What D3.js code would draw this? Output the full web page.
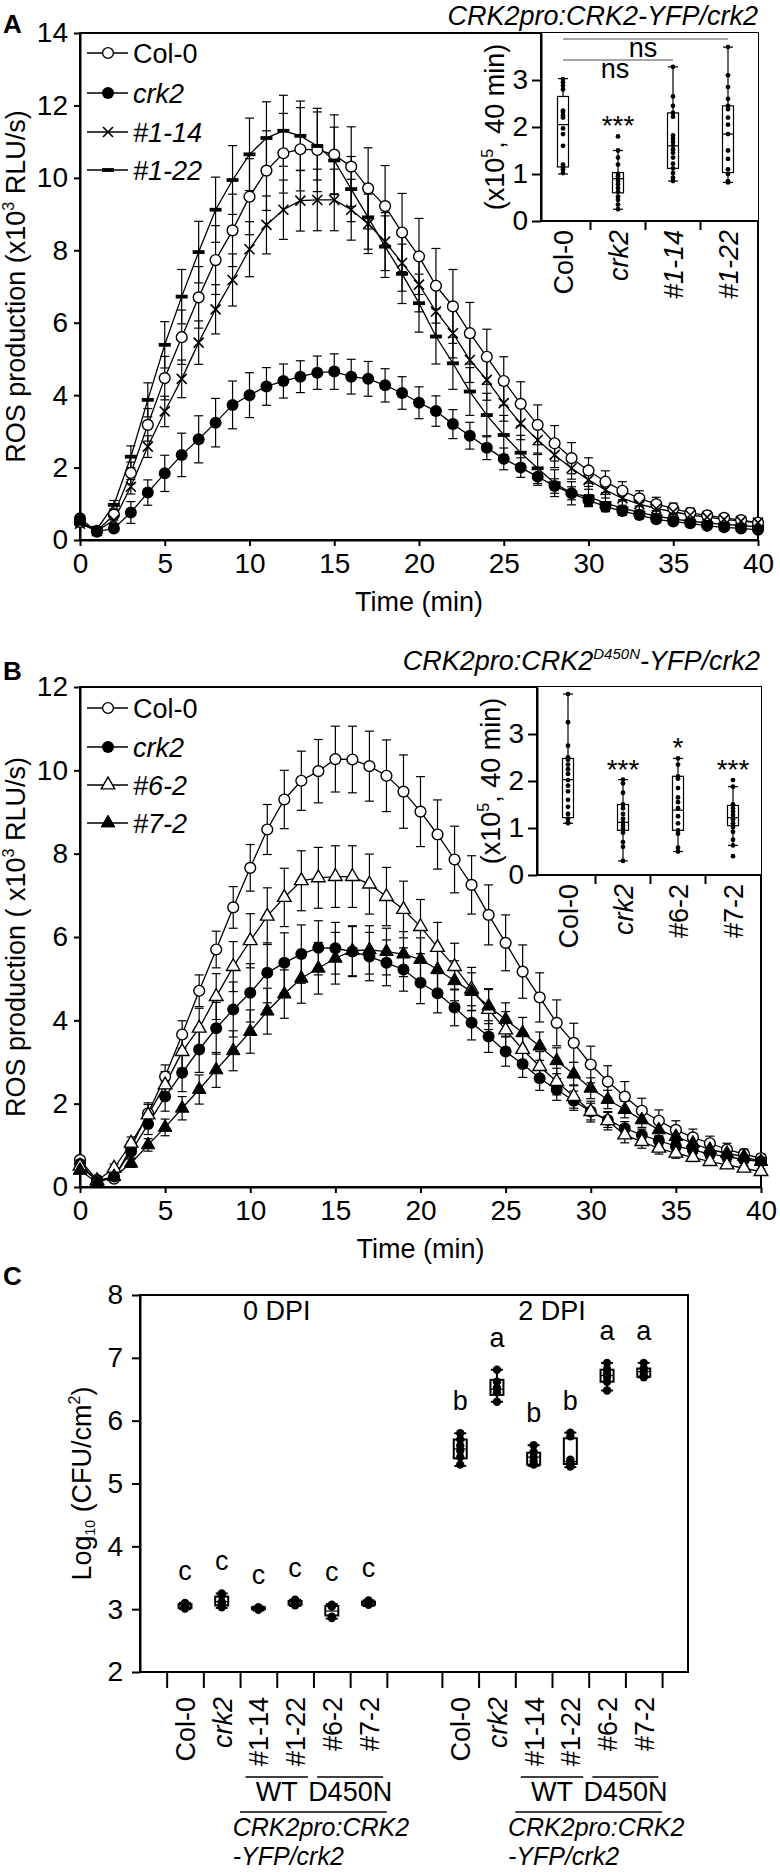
<!DOCTYPE html>
<html><head><meta charset="utf-8">
<script src="https://cdn.jsdelivr.net/npm/d3@7"></script>
<style>body{margin:0;background:#fff}svg{display:block}</style>
</head><body><svg id="c" width="780" height="1872"></svg>
<script>
// ---------------- DATA ----------------
const time = d3.range(0, 41);
const timeTicks = [0, 5, 10, 15, 20, 25, 30, 35, 40];

// Panel A: ROS (x10^3 RLU/s)
const a_col0 = [0.50,0.25,0.70,1.85,3.18,4.47,5.60,6.70,7.73,8.55,9.48,10.20,10.68,10.79,10.77,10.64,10.31,9.71,9.22,8.49,7.83,7.02,6.45,5.71,5.06,4.39,3.76,3.18,2.67,2.26,1.92,1.61,1.36,1.15,0.99,0.87,0.75,0.68,0.61,0.55,0.48];
const a_col0_se = [0.10,0.05,0.15,0.30,0.45,0.60,0.75,0.85,0.95,1.00,1.05,1.10,1.10,1.15,1.15,1.10,1.10,1.12,1.12,1.08,1.05,1.03,1.02,0.85,0.76,0.67,0.61,0.55,0.49,0.43,0.35,0.30,0.25,0.21,0.19,0.15,0.13,0.11,0.10,0.09,0.08];
const a_crk2 = [0.60,0.23,0.32,0.76,1.31,1.84,2.35,2.78,3.24,3.73,4.00,4.24,4.39,4.51,4.62,4.65,4.51,4.45,4.27,4.06,3.79,3.56,3.20,2.88,2.55,2.24,2.00,1.75,1.49,1.29,1.10,0.92,0.80,0.69,0.57,0.51,0.46,0.39,0.35,0.32,0.28];
const a_crk2_se = [0.08,0.05,0.08,0.30,0.35,0.50,0.60,0.65,0.67,0.66,0.62,0.52,0.47,0.44,0.46,0.49,0.48,0.48,0.46,0.45,0.44,0.42,0.40,0.37,0.33,0.30,0.27,0.24,0.20,0.18,0.15,0.13,0.11,0.10,0.09,0.08,0.07,0.06,0.06,0.05,0.05];
const a_l114 = [0.45,0.25,0.55,1.47,2.58,3.55,4.45,5.45,6.37,7.18,8.03,8.70,9.12,9.37,9.39,9.39,9.12,8.73,8.24,7.65,7.05,6.31,5.71,4.97,4.42,3.78,3.22,2.76,2.35,1.98,1.66,1.38,1.15,0.99,0.87,0.78,0.69,0.63,0.57,0.52,0.48];
const a_l114_se = [0.08,0.05,0.10,0.20,0.30,0.42,0.52,0.60,0.68,0.72,0.76,0.80,0.82,0.84,0.85,0.85,0.84,0.82,0.80,0.78,0.75,0.72,0.68,0.62,0.56,0.50,0.45,0.40,0.35,0.30,0.26,0.22,0.19,0.16,0.14,0.12,0.10,0.09,0.08,0.07,0.06];
const a_l122 = [0.45,0.30,0.97,2.30,3.87,5.39,6.72,7.95,9.12,9.94,10.65,11.10,11.30,11.16,10.88,10.48,9.69,8.91,8.10,7.35,6.54,5.62,4.88,4.10,3.45,2.90,2.41,1.98,1.57,1.29,1.20,1.02,0.88,0.76,0.66,0.58,0.52,0.47,0.43,0.40,0.36];
const a_l122_se = [0.08,0.05,0.12,0.30,0.47,0.64,0.75,0.85,0.90,0.95,1.00,1.00,0.98,0.96,0.94,0.92,0.90,0.88,0.85,0.82,0.80,0.76,0.72,0.66,0.60,0.54,0.48,0.42,0.37,0.32,0.28,0.24,0.20,0.17,0.15,0.13,0.11,0.10,0.09,0.08,0.07];

// Panel B
const b_col0 = [0.65,0.17,0.20,0.95,1.77,2.65,3.66,4.71,5.70,6.71,7.66,8.58,9.30,9.75,9.98,10.27,10.26,10.10,9.87,9.49,9.01,8.46,7.86,7.25,6.53,5.86,5.17,4.55,3.94,3.46,2.94,2.53,2.17,1.83,1.59,1.37,1.19,1.05,0.90,0.79,0.69];
const b_col0_se = [0.08,0.05,0.08,0.15,0.25,0.28,0.33,0.38,0.44,0.50,0.56,0.60,0.70,0.71,0.76,0.79,0.80,0.84,0.86,0.88,0.84,0.83,0.80,0.70,0.72,0.67,0.64,0.59,0.55,0.47,0.44,0.38,0.36,0.30,0.26,0.22,0.20,0.17,0.15,0.12,0.10];
const b_crk2 = [0.55,0.15,0.25,0.85,1.51,2.17,2.74,3.30,3.81,4.26,4.66,5.14,5.38,5.59,5.74,5.73,5.65,5.53,5.38,5.22,4.90,4.65,4.31,3.94,3.61,3.25,2.95,2.61,2.34,2.07,1.81,1.61,1.41,1.25,1.11,0.98,0.89,0.79,0.73,0.66,0.61];
const b_crk2_se = [0.08,0.05,0.08,0.15,0.25,0.35,0.45,0.55,0.62,0.66,0.70,0.72,0.72,0.70,0.65,0.62,0.60,0.58,0.55,0.52,0.50,0.47,0.44,0.41,0.38,0.35,0.32,0.29,0.26,0.23,0.20,0.18,0.16,0.14,0.12,0.11,0.10,0.09,0.08,0.07,0.07];
const b_l62 = [0.50,0.15,0.45,1.05,1.73,2.45,3.25,3.81,4.57,5.29,5.91,6.50,6.95,7.35,7.42,7.45,7.45,7.27,6.97,6.66,6.25,5.75,5.29,4.75,4.26,3.77,3.30,2.89,2.53,2.17,1.81,1.59,1.25,1.09,0.93,0.81,0.71,0.61,0.53,0.45,0.37];
const b_l62_se = [0.08,0.05,0.10,0.15,0.25,0.32,0.40,0.48,0.55,0.60,0.65,0.68,0.70,0.72,0.73,0.74,0.74,0.72,0.70,0.68,0.65,0.60,0.56,0.52,0.48,0.44,0.40,0.36,0.32,0.28,0.25,0.22,0.19,0.16,0.14,0.12,0.10,0.09,0.08,0.07,0.06];
const b_l72 = [0.40,0.10,0.25,0.57,1.01,1.43,1.89,2.34,2.81,3.27,3.73,4.22,4.63,5.01,5.25,5.49,5.67,5.69,5.65,5.59,5.46,5.22,4.95,4.69,4.34,4.02,3.70,3.38,3.03,2.71,2.37,2.10,1.86,1.61,1.37,1.21,1.05,0.90,0.81,0.73,0.61];
const b_l72_se = [0.06,0.05,0.06,0.10,0.15,0.20,0.28,0.35,0.42,0.48,0.52,0.55,0.58,0.60,0.62,0.62,0.60,0.58,0.56,0.54,0.52,0.50,0.48,0.45,0.42,0.40,0.37,0.34,0.31,0.28,0.25,0.22,0.20,0.18,0.16,0.14,0.12,0.10,0.09,0.08,0.07];

// Insets (x10^5, 40 min): [min, q1, median, q3, max]
const insA_cats = ["Col-0", "crk2", "#1-14", "#1-22"];
const insA_box = [[1.00,1.15,2.05,2.65,3.03],[0.25,0.60,0.90,1.03,1.50],[0.85,1.12,1.60,2.30,3.28],[0.82,1.03,1.85,2.45,3.70]];
const insA_pts = [
  [3.02,2.95,2.88,2.80,2.35,2.32,2.25,2.20,1.97,1.85,1.60,1.20,1.15,1.10,1.02],
  [1.80,1.50,1.35,1.20,1.00,0.95,0.90,0.85,0.78,0.70,0.62,0.52,0.45,0.35,0.25],
  [3.28,2.65,2.45,2.30,2.22,1.82,1.75,1.68,1.60,1.52,1.45,1.35,1.22,1.12,1.02,0.92,0.85],
  [3.70,3.10,2.85,2.60,2.45,2.38,2.20,2.05,1.85,1.50,1.32,1.10,1.00,0.85,0.82]];
const insA_sig = ["", "***", "", ""];
const insB_cats = ["Col-0", "crk2", "#6-2", "#7-2"];
const insB_box = [[1.10,1.22,2.03,2.48,3.85],[0.30,0.95,1.12,1.50,2.03],[0.50,0.95,1.38,2.10,2.48],[0.63,1.05,1.22,1.48,1.88]];
const insB_pts = [
  [3.85,3.25,2.75,2.50,2.45,2.35,2.25,2.15,2.02,1.90,1.78,1.60,1.45,1.30,1.20,1.12,1.10],
  [2.03,1.95,1.75,1.50,1.42,1.30,1.20,1.12,1.05,0.98,0.90,0.70,0.60,0.30],
  [2.48,2.35,2.10,2.05,1.85,1.65,1.55,1.42,1.25,1.10,0.95,0.88,0.58,0.50],
  [2.02,1.88,1.50,1.42,1.35,1.28,1.22,1.18,1.10,1.02,0.92,0.75,0.63,0.40]];
const insB_sig = ["", "***", "*", "***"];

// Panel C: Log10 (CFU/cm2)
const c_cats = ["Col-0", "crk2", "#1-14", "#1-22", "#6-2", "#7-2"];
const c_days = ["0 DPI", "2 DPI"];
const c0_box = [[3.00,3.02,3.05,3.08,3.10],[3.02,3.06,3.12,3.20,3.25],[2.98,3.00,3.01,3.03,3.04],[3.05,3.07,3.10,3.13,3.15],[2.85,2.90,2.97,3.05,3.08],[3.05,3.07,3.10,3.12,3.14]];
const c0_pts = [[3.10,3.08,3.05,3.03,3.01],[3.25,3.22,3.12,3.08,3.05,3.03],[3.03,3.01,2.99],[3.15,3.12,3.10,3.07,3.06],[3.07,3.04,2.88,2.86],[3.14,3.12,3.09,3.07]];
const c0_let = ["c","c","c","c","c","c"];
const c2_box = [[5.28,5.40,5.55,5.70,5.80],[6.30,6.41,6.50,6.65,6.81],[5.28,5.30,5.42,5.49,5.61],[5.26,5.31,5.35,5.72,5.81],[6.48,6.62,6.72,6.81,6.92],[6.69,6.70,6.78,6.83,6.92]];
const c2_pts = [[5.80,5.70,5.60,5.52,5.42,5.30],[6.81,6.62,6.52,6.45,6.30],[5.61,5.50,5.42,5.35,5.30],[5.81,5.75,5.38,5.34,5.30,5.27],[6.92,6.82,6.75,6.70,6.62,6.48],[6.92,6.83,6.78,6.72,6.69]];
const c2_let = ["b","a","b","b","a","a"];

// ---------------- DRAW ----------------
const FONT = '"Liberation Sans", Arial, Helvetica, sans-serif';
const FS = 27;
const TFS = 28;
const fmtInt = d3.format("d");
const svg = d3.select("#c");
svg.append("rect").attr("width", 780).attr("height", 1872).attr("fill", "#fff");

function txt(g, x, y, s, o = {}) {
  const t = g.append("text").attr("x", x).attr("y", y).attr("font-family", FONT)
    .attr("font-size", o.fs || FS).attr("fill", "#000").attr("text-anchor", o.anchor || "start");
  if (o.italic) t.attr("font-style", "italic");
  if (o.bold) t.attr("font-weight", "bold");
  if (o.transform) t.attr("transform", o.transform);
  if (s !== null) t.text(s);
  return t;
}
function styleAxis(a) {
  a.attr("font-size", TFS).attr("font-family", FONT);
  a.selectAll(".domain").attr("stroke-width", 2);
  a.selectAll(".tick line").attr("stroke-width", 2);
  a.selectAll(".tick text").attr("fill", "#000");
}
const triPath = d3.symbol(d3.symbolTriangle, 80)();
function marker(sel, type) {
  if (type === "oc") sel.append("circle").attr("r", 5.4).attr("fill", "#fff").attr("stroke", "#000").attr("stroke-width", 1.4);
  else if (type === "fc") sel.append("circle").attr("r", 6).attr("fill", "#000");
  else if (type === "x") sel.append("path").attr("d", "M-5,-5L5,5M-5,5L5,-5").attr("stroke", "#000").attr("stroke-width", 1.6).attr("fill", "none");
  else if (type === "dash") sel.append("rect").attr("x", -6).attr("y", -1.9).attr("width", 12).attr("height", 3.8).attr("fill", "#000");
  else if (type === "ot") sel.append("path").attr("d", triPath).attr("fill", "#fff").attr("stroke", "#000").attr("stroke-width", 1.4);
  else if (type === "ft") sel.append("path").attr("d", triPath).attr("fill", "#000").attr("stroke", "#000").attr("stroke-width", 1);
}

function timePanel(o) {
  const g = svg.append("g");
  const x = d3.scaleLinear().domain([0, 40]).range([o.left, o.right]);
  const y = d3.scaleLinear().domain([0, o.ymax]).range([o.bottom, o.top]);
  const xa = g.append("g").attr("transform", `translate(0,${o.bottom})`)
    .call(d3.axisBottom(x).tickValues(timeTicks).tickFormat(fmtInt).tickSize(6).tickSizeOuter(0).tickPadding(7));
  styleAxis(xa);
  const ya = g.append("g").attr("transform", `translate(${o.left},0)`)
    .call(d3.axisLeft(y).tickValues(d3.range(0, o.ymax + 1, 2)).tickFormat(fmtInt).tickSize(6).tickSizeOuter(0).tickPadding(6));
  styleAxis(ya);
  g.append("rect").attr("x", o.left).attr("y", o.top).attr("width", o.right - o.left).attr("height", o.bottom - o.top)
    .attr("fill", "none").attr("stroke", "#000").attr("stroke-width", 2);
  const line = d3.line().x((d, i) => x(time[i])).y(d => y(d));
  o.series.forEach(s => {
    g.append("path").attr("d", line(s.v)).attr("fill", "none").attr("stroke", "#000").attr("stroke-width", 1.3);
  });
  o.series.forEach(s => {
    const eb = g.append("g").attr("stroke", "#000").attr("stroke-width", 1.2);
    s.v.forEach((v, i) => {
      const cx = x(time[i]), lo = y(v - s.e[i]), hi = y(v + s.e[i]);
      eb.append("line").attr("x1", cx).attr("x2", cx).attr("y1", lo).attr("y2", hi);
      eb.append("line").attr("x1", cx - 4.5).attr("x2", cx + 4.5).attr("y1", lo).attr("y2", lo);
      eb.append("line").attr("x1", cx - 4.5).attr("x2", cx + 4.5).attr("y1", hi).attr("y2", hi);
    });
  });
  o.series.forEach(s => {
    s.v.forEach((v, i) => {
      marker(g.append("g").attr("transform", `translate(${x(time[i])},${y(v)})`), s.m);
    });
  });
  // legend
  o.series.forEach((s, i) => {
    const ly = o.legY[i];
    g.append("line").attr("x1", 87).attr("x2", 128).attr("y1", ly).attr("y2", ly).attr("stroke", "#000").attr("stroke-width", 1.3);
    marker(g.append("g").attr("transform", `translate(108,${ly})`), s.m);
    txt(g, 133, ly + 9.5, s.name, { italic: s.it });
  });
  // axis titles
  txt(g, (o.left + o.right) / 2, o.bottom + 71, "Time (min)", { anchor: "middle" });
  const yl = txt(g, 0, 0, null, { anchor: "middle", transform: `translate(25,${(o.top + o.bottom) / 2}) rotate(-90)` });
  yl.append("tspan").text(o.ylab1);
  yl.append("tspan").attr("font-size", 16).attr("dy", -11).text("3");
  yl.append("tspan").attr("dy", 11).text(" RLU/s)");
  return g;
}

function inset(o) {
  const g = svg.append("g");
  g.append("rect").attr("x", o.left).attr("y", o.top).attr("width", o.right - o.left).attr("height", o.bottom - o.top).attr("fill", "#fff");
  const x = d3.scalePoint().domain(o.cats).range(o.catRange);
  const y = d3.scaleLinear().domain([0, 4]).range([o.bottom, o.top]);
  const ya = g.append("g").attr("transform", `translate(${o.left},0)`)
    .call(d3.axisLeft(y).tickValues([0, 1, 2, 3]).tickFormat(fmtInt).tickSize(9).tickSizeOuter(0).tickPadding(4));
  styleAxis(ya);
  g.append("line").attr("x1", o.left).attr("x2", o.right).attr("y1", o.bottom).attr("y2", o.bottom).attr("stroke", "#000").attr("stroke-width", 2);
  g.append("line").attr("x1", o.left).attr("x2", o.left).attr("y1", o.top).attr("y2", o.bottom).attr("stroke", "#000").attr("stroke-width", 2);
  const step = x.step();
  for (let i = 0; i < o.cats.length - 1; i++) {
    const tx = x(o.cats[i]) + step / 2;
    g.append("line").attr("x1", tx).attr("x2", tx).attr("y1", o.bottom).attr("y2", o.bottom + 9).attr("stroke", "#000").attr("stroke-width", 2);
  }
  o.cats.forEach((c, i) => {
    const cx = x(c), b = o.box[i];
    const bg = g.append("g").attr("stroke", "#000").attr("stroke-width", 1.2).attr("fill", "none");
    bg.append("line").attr("x1", cx).attr("x2", cx).attr("y1", y(b[0])).attr("y2", y(b[4]));
    bg.append("line").attr("x1", cx - 5).attr("x2", cx + 5).attr("y1", y(b[0])).attr("y2", y(b[0]));
    bg.append("line").attr("x1", cx - 5).attr("x2", cx + 5).attr("y1", y(b[4])).attr("y2", y(b[4]));
    bg.append("rect").attr("x", cx - 5.5).attr("y", y(b[3])).attr("width", 11).attr("height", y(b[1]) - y(b[3])).attr("fill", "#fff");
    bg.append("line").attr("x1", cx - 5.5).attr("x2", cx + 5.5).attr("y1", y(b[2])).attr("y2", y(b[2]));
    o.pts[i].forEach(p => g.append("circle").attr("cx", cx).attr("cy", y(p)).attr("r", 2.4).attr("fill", "#000"));
    txt(g, 0, 0, c, { anchor: "end", italic: o.italic[i], transform: `translate(${cx + 10},${o.bottom + 9}) rotate(-90)` });
    if (o.sig[i]) {
      const top = Math.max(b[4], d3.max(o.pts[i]));
      txt(g, cx, y(top) - 1, o.sig[i], { anchor: "middle", fs: 28 });
    }
  });
  const yl = txt(g, 0, 0, null, { anchor: "middle", transform: `translate(${o.left - 37},${(o.top + o.bottom) / 2}) rotate(-90)` });
  yl.append("tspan").text("(x10");
  yl.append("tspan").attr("font-size", 16).attr("dy", -11).text("5");
  yl.append("tspan").attr("dy", 11).text(", 40 min)");
  return { g, x, y };
}

// ---- Panel A ----
txt(svg, 3, 33, "A", { bold: true, fs: 26 });
txt(svg, 758, 25, "CRK2pro:CRK2-YFP/crk2", { anchor: "end", italic: true });
timePanel({
  left: 80, right: 758, top: 33, bottom: 540, ymax: 14,
  ylab1: "ROS production (x10",
  legY: [53, 93, 132, 170],
  series: [
    { name: "Col-0", v: a_col0, e: a_col0_se, m: "oc", it: false },
    { name: "crk2", v: a_crk2, e: a_crk2_se, m: "fc", it: true },
    { name: "#1-14", v: a_l114, e: a_l114_se, m: "x", it: true },
    { name: "#1-22", v: a_l122, e: a_l122_se, m: "dash", it: true }
  ]
});
const iA = inset({ left: 541, right: 758, top: 33, bottom: 221, cats: insA_cats, catRange: [563, 728],
  box: insA_box, pts: insA_pts, italic: [false, true, true, true], sig: insA_sig });
// ns brackets
{
  const g = iA.g, x = iA.x;
  g.append("line").attr("x1", x("Col-0")).attr("x2", x("#1-22")).attr("y1", 39).attr("y2", 39).attr("stroke", "#888").attr("stroke-width", 1.5);
  txt(g, 643, 57, "ns", { anchor: "middle" });
  g.append("line").attr("x1", x("Col-0")).attr("x2", x("#1-14")).attr("y1", 60).attr("y2", 60).attr("stroke", "#888").attr("stroke-width", 1.5);
  txt(g, 615, 78, "ns", { anchor: "middle" });
}

// ---- Panel B ----
txt(svg, 3, 680, "B", { bold: true, fs: 26 });
{
  const t = txt(svg, 760, 670, null, { anchor: "end", italic: true });
  t.append("tspan").text("CRK2pro:CRK2");
  t.append("tspan").attr("font-size", 15).attr("dy", -11).text("D450N");
  t.append("tspan").attr("dy", 11).text("-YFP/crk2");
}
timePanel({
  left: 80, right: 761, top: 687, bottom: 1187, ymax: 12,
  ylab1: "ROS production ( x10",
  legY: [708, 747, 785, 823],
  series: [
    { name: "Col-0", v: b_col0, e: b_col0_se, m: "oc", it: false },
    { name: "crk2", v: b_crk2, e: b_crk2_se, m: "fc", it: true },
    { name: "#6-2", v: b_l62, e: b_l62_se, m: "ot", it: true },
    { name: "#7-2", v: b_l72, e: b_l72_se, m: "ft", it: true }
  ]
});
inset({ left: 537, right: 761, top: 687, bottom: 875, cats: insB_cats, catRange: [568, 733],
  box: insB_box, pts: insB_pts, italic: [false, true, false, false], sig: insB_sig });

// ---- Panel C ----
txt(svg, 3, 1285, "C", { bold: true, fs: 26 });
{
  const g = svg.append("g");
  const L = 140, R = 688, T = 1295, B = 1672;
  const xk = d3.scaleLinear().domain([0, 1]).range([185, 221.7]);
  const y = d3.scaleLinear().domain([2, 8]).range([B, T]);
  const ya = g.append("g").attr("transform", `translate(${L},0)`)
    .call(d3.axisLeft(y).tickValues(d3.range(2, 9)).tickFormat(fmtInt).tickSize(8).tickSizeOuter(0).tickPadding(9));
  styleAxis(ya);
  const tk = d3.range(-0.5, 6, 1).concat(d3.range(7, 14, 1));
  const xa = g.append("g").attr("transform", `translate(0,${B})`)
    .call(d3.axisBottom(xk).tickValues(tk).tickFormat("").tickSize(16).tickSizeOuter(0));
  styleAxis(xa);
  xa.select(".domain").remove();
  g.append("rect").attr("x", L).attr("y", T).attr("width", R - L).attr("height", B - T)
    .attr("fill", "none").attr("stroke", "#000").attr("stroke-width", 2);
  const groups = [
    { off: 0, box: c0_box, pts: c0_pts, let: c0_let },
    { off: 7.5, box: c2_box, pts: c2_pts, let: c2_let }
  ];
  groups.forEach((grp, gi) => {
    c_cats.forEach((c, i) => {
      const cx = xk(i + grp.off), b = grp.box[i];
      const bg = g.append("g").attr("stroke", "#000").attr("stroke-width", 2).attr("fill", "none");
      bg.append("line").attr("x1", cx).attr("x2", cx).attr("y1", y(b[0])).attr("y2", y(b[4]));
      bg.append("line").attr("x1", cx - 6).attr("x2", cx + 6).attr("y1", y(b[0])).attr("y2", y(b[0]));
      bg.append("line").attr("x1", cx - 6).attr("x2", cx + 6).attr("y1", y(b[4])).attr("y2", y(b[4]));
      bg.append("rect").attr("x", cx - 6.5).attr("y", y(b[3])).attr("width", 13).attr("height", Math.max(1, y(b[1]) - y(b[3]))).attr("fill", "#fff");
      bg.append("line").attr("x1", cx - 6.5).attr("x2", cx + 6.5).attr("y1", y(b[2])).attr("y2", y(b[2])).attr("stroke-width", 1.2);
      grp.pts[i].forEach(p => g.append("circle").attr("cx", cx).attr("cy", y(p)).attr("r", 4.2).attr("fill", "#000"));
      const top = Math.max(b[4], d3.max(grp.pts[i]));
      txt(g, cx, y(top) - 23, grp.let[i], { anchor: "middle" });
      txt(g, 0, 0, c, { anchor: "end", italic: c === "crk2", transform: `translate(${cx + 10},1697) rotate(-90)` });
    });
    const x0 = xk(grp.off), step = xk(1) - xk(0);
    // WT / D450N brackets
    const wtL = x0 + 1.65 * step, wtR = x0 + 3.35 * step, dL = x0 + 3.6 * step, dR = x0 + 5.4 * step;
    [[wtL, wtR, "WT"], [dL, dR, "D450N"]].forEach(([a, bb, s]) => {
      g.append("line").attr("x1", a).attr("x2", bb).attr("y1", 1777).attr("y2", 1777).attr("stroke", "#000").attr("stroke-width", 1.5);
      txt(g, (a + bb) / 2, 1801, s, { anchor: "middle" });
    });
    g.append("line").attr("x1", x0 + 1.5 * step).attr("x2", x0 + 5.5 * step).attr("y1", 1812).attr("y2", 1812).attr("stroke", "#000").attr("stroke-width", 1.5);
    txt(g, x0 + 1.3 * step, 1836, "CRK2pro:CRK2", { italic: true, fs: 25 });
    txt(g, x0 + 1.3 * step, 1865, "-YFP/crk2", { italic: true, fs: 25 });
    txt(g, x0 + 2.5 * step, 1320, c_days[gi], { anchor: "middle" });
  });
  const yl = txt(g, 0, 0, null, { anchor: "middle", transform: `translate(91,${(T + B) / 2}) rotate(-90)` });
  yl.append("tspan").text("Log");
  yl.append("tspan").attr("font-size", 14).attr("dy", 4).text("10");
  yl.append("tspan").attr("dy", -4).text(" (CFU/cm");
  yl.append("tspan").attr("font-size", 16).attr("dy", -11).text("2");
  yl.append("tspan").attr("dy", 11).text(")");
}
</script>
</body></html>
